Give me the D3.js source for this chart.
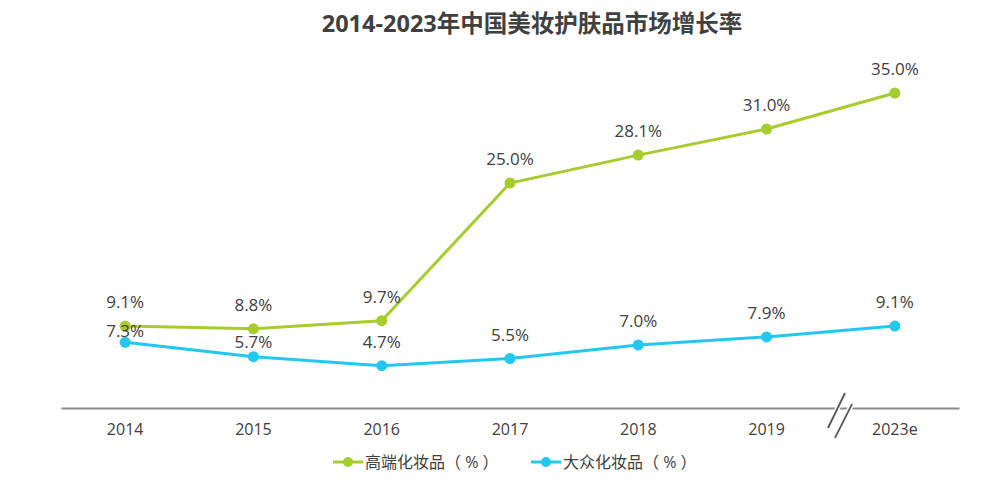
<!DOCTYPE html>
<html><head><meta charset="utf-8">
<script src="https://cdn.jsdelivr.net/npm/d3@7"></script>
<style>body{margin:0;background:#fff}svg{display:block}</style>
</head><body><svg id="c" width="1000" height="483"></svg>
<script>
const categories = ["2014","2015","2016","2017","2018","2019","2023e"];
const highEnd = [9.1, 8.8, 9.7, 25.0, 28.1, 31.0, 35.0];
const mass = [7.3, 5.7, 4.7, 5.5, 7.0, 7.9, 9.1];
const seriesNames = ["高端化妆品（ % ）", "大众化妆品（ % ）"];
const title = "2014-2023年中国美妆护肤品市场增长率";

const svg = d3.select("#c");
const font = "'Open Sans','Noto Sans CJK SC',sans-serif";
const green = "#a8cc2e", blue = "#22c8f0", txt = "#404040";

const x = d3.scaleBand().domain(categories).range([61, 959]);
const y = d3.scaleLinear().domain([0, 35]).range([408, 93]);
const cx = d => x(d) + x.bandwidth() / 2;

svg.append("text").attr("x", 532).attr("y", 32).attr("text-anchor", "middle")
  .attr("font-family", font).attr("font-weight", "bold")
  .attr("font-size", 23.5).attr("fill", txt).text(title);

// axis
const ax = svg.append("g").attr("transform", "translate(0,408)")
  .call(d3.axisBottom(x).tickSize(0));
ax.select(".domain").attr("stroke", "#8c8c8c").attr("stroke-width", 2);
ax.selectAll("text").attr("font-family", font).attr("font-size", 16).attr("fill", txt)
  .attr("y", 27).attr("dy", 0);

// break marks
[0, 7].forEach(o => {
  svg.append("line").attr("x1", 845 + o).attr("y1", 393 + o * 1.6).attr("x2", 828 + o).attr("y2", 428 + o * 1.4)
    .attr("stroke", "#fff").attr("stroke-width", 5);
});
[0, 7].forEach(o => {
  svg.append("line").attr("x1", 845 + o).attr("y1", 393 + o * 1.6).attr("x2", 828 + o).attr("y2", 428 + o * 1.4)
    .attr("stroke", "#555").attr("stroke-width", 1.8);
});

const line = d3.line().x((d, i) => cx(categories[i])).y(d => y(d));
function drawSeries(vals, color, offsets) {
  svg.append("path").datum(vals).attr("d", line).attr("fill", "none")
    .attr("stroke", color).attr("stroke-width", 3);
  svg.selectAll(null).data(vals).enter().append("circle")
    .attr("cx", (d, i) => cx(categories[i])).attr("cy", d => y(d)).attr("r", 5.5).attr("fill", color);
  svg.selectAll(null).data(vals).enter().append("text")
    .attr("x", (d, i) => cx(categories[i])).attr("y", (d, i) => y(d) - offsets(i))
    .attr("text-anchor", "middle").attr("font-family", font).attr("font-size", 17).attr("fill", txt)
    .text(d => d.toFixed(1) + "%");
}
drawSeries(highEnd, green, i => 18);
drawSeries(mass, blue, i => i === 0 ? 5 : (i === 1 ? 9 : 18));

// legend
const leg = [{n: seriesNames[0], c: green, x: 333}, {n: seriesNames[1], c: blue, x: 531}];
leg.forEach(l => {
  svg.append("line").attr("x1", l.x).attr("x2", l.x + 30).attr("y1", 462).attr("y2", 462)
    .attr("stroke", l.c).attr("stroke-width", 3);
  svg.append("circle").attr("cx", l.x + 15).attr("cy", 462).attr("r", 5).attr("fill", l.c);
  svg.append("text").attr("x", l.x + 32).attr("y", 468).attr("font-family", font)
    .attr("font-size", 16).attr("fill", txt).text(l.n);
});
</script></body></html>
